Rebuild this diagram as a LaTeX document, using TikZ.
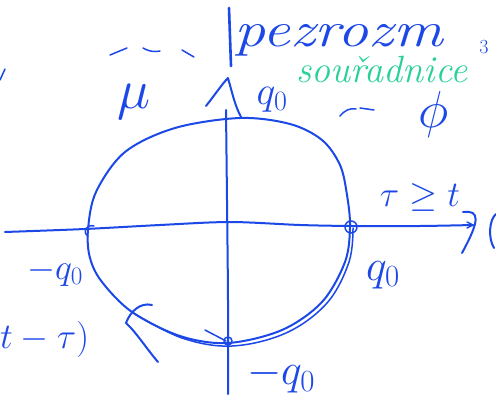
\documentclass[tikz,border=0pt]{standalone}
\usepackage{fix-cm}
\definecolor{inkblue}{RGB}{28,72,232}
\definecolor{inkgreen}{RGB}{40,210,150}
\begin{document}
\begin{tikzpicture}[x=1pt,y=-1pt,
  ink/.style={draw=inkblue, line width=2pt, line cap=round, line join=round},
  thinink/.style={draw=inkblue, line width=1.5pt, line cap=round, line join=round},
  lbl/.style={text=inkblue, inner sep=0pt},
  fs/.style={font=\fontsize{#1}{#1}\selectfont}]
\useasboundingbox[fill=white] (0,0) rectangle (496,396);
% circle
\draw[ink] plot[smooth cycle, tension=0.55] coordinates {(88,230) (96,192) (125,152) (175,128) (240,118) (290,124) (322,140) (340,165) (347,195) (350,227) (345,262) (322,302) (282,330) (228,343) (180,336) (132,312) (102,282) (90,258)};
% doubled bottom-right stroke
\draw[thinink] plot[smooth, tension=0.6] coordinates {(353,228) (349,262) (327,303) (286,333) (232,346) (182,338) (135,314)};
\draw[thinink] (205,330) -- (226,341);
% horizontal axis
\draw[ink] plot[smooth, tension=0.5] coordinates {(5,232) (85,229) (160,225) (230,222) (300,225) (352,226) (420,226) (473,225)};
\draw[thinink] (467,222) -- (473,225) -- (467,228);
\draw[ink] (463,212) .. controls (480,210) and (480,220) .. (462,253);
\draw[ink] (496,214) .. controls (489,220) and (488,238) .. (494,248);
% vertical axis
\draw[ink, line width=2.6pt] (229,8) -- (231,66);
\draw[ink] (206,106) .. controls (214,96) and (222,84) .. (228,78) .. controls (232,92) and (235,106) .. (241,117);
\draw[ink] plot[smooth] coordinates {(226,110) (227,200) (228,300) (228,394)};
% intersection marks
\draw[thinink] (94,226) .. controls (86,224) and (82,232) .. (88,236);
\draw[thinink] (351,227) circle (6);
\draw[thinink] (228,341) circle (4);
% bracket
\draw[ink] (152,305) .. controls (140,302) and (130,312) .. (126,323) .. controls (136,332) and (146,348) .. (158,362);
% tilde dashes
\draw[thinink] (110,55) -- (127,48);
\draw[thinink] (143,48) .. controls (150,52) and (155,52) .. (160,51);
\draw[thinink] (182,50) -- (194,57);
\draw[thinink] (340,116) .. controls (345,110) and (350,108) .. (356,109);
\draw[thinink] (360,108) -- (374,110);
\draw[thinink] (0,80) -- (5,69);
% labels
\node[lbl, anchor=west, font=\fontsize{50}{50}\selectfont\itshape] (word) at (234,40) {\scalebox{1.24}[1]{pezrozm}};
\node[lbl, fs=20] (three) at (484,47) {3};
\node[lbl, text=inkgreen, font=\fontsize{38}{38}\selectfont\itshape] (coord) at (382,70) {souřadnice};
\node[lbl, fs=56] (mu) at (134,102) {$\mu$};
\node[lbl, fs=52] (phi) at (434,115) {$\phi$};
\node[lbl, fs=40] (qtop) at (272,100) {$q_0$};
\node[lbl, fs=36] (qleft) at (55,272) {$-q_0$};
\node[lbl, fs=44] (qright) at (383,275) {$q_0$};
\node[lbl, fs=44] (qbot) at (281,376) {$-q_0$};
\node[lbl, fs=36] (tau) at (420,197) {$\tau\geq t$};
\node[lbl, fs=36, anchor=west] (ttau) at (0,340) {$t-\tau)$};
\end{tikzpicture}
\end{document}
